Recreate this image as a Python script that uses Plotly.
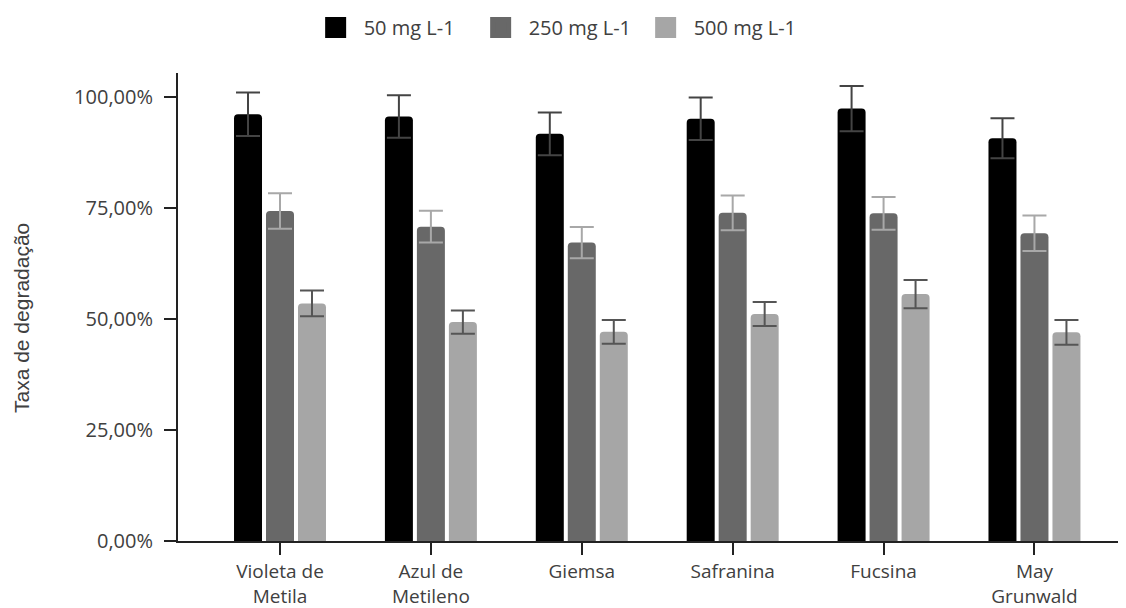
import plotly.graph_objects as go

categories = ["Violeta de<br>Metila", "Azul de<br>Metileno", "Giemsa", "Safranina", "Fucsina", "May<br>Grunwald"]
series_names = ["50 mg L-1", "250 mg L-1", "500 mg L-1"]
v50 = [96.1, 95.6, 91.7, 95.1, 97.4, 90.7]
e50 = [4.9, 4.8, 4.8, 4.8, 5.1, 4.5]
v250 = [74.3, 70.8, 67.2, 73.9, 73.8, 69.3]
e250 = [4.0, 3.6, 3.5, 3.9, 3.7, 4.0]
v500 = [53.5, 49.3, 47.1, 51.1, 55.6, 47.0]
e500 = [2.9, 2.6, 2.7, 2.7, 3.2, 2.8]
y_ticks = [0, 25, 50, 75, 100]
y_ticktext = ["0,00%", "25,00%", "50,00%", "75,00%", "100,00%"]

bar_colors = ["#000000", "#686868", "#a6a6a6"]
err_colors = ["#444444", "#a8a8a8", "#555555"]

fig = go.Figure()
for i, (name, vals, errs, bc, ec) in enumerate(zip(series_names, [v50, v250, v500], [e50, e250, e500], bar_colors, err_colors)):
    fig.add_trace(go.Bar(
        name=name, x=list(range(len(categories))), y=vals, legendgroup=name, showlegend=False,
        marker=dict(color=bc, line=dict(width=0)),
        error_y=dict(type="data", array=errs, visible=True, color=ec, thickness=2, width=12),
    ))
# legend entries (no data drawn)
for name, bc in zip(series_names, bar_colors):
    fig.add_trace(go.Scatter(
        name=name, x=[None], y=[None], mode="markers", legendgroup=name, showlegend=True,
        marker=dict(symbol="square", size=16, color=bc, line=dict(width=5, color=bc)),
    ))

font_ticks = dict(family="Open Sans", size=20, color="#404040")
font_xticks = dict(family="Open Sans", size=19, color="#404040")
fig.update_layout(
    width=1118, height=600,
    margin=dict(l=170, r=1, t=65, b=67, autoexpand=False),
    paper_bgcolor="white", plot_bgcolor="white",
    barmode="group", bargap=0.364, bargroupgap=0.125, barcornerradius=4,
    showlegend=True,
    legend=dict(orientation="h", xref="container", x=0.4894, xanchor="center",
                yref="container", y=1.0, yanchor="top",
                font=dict(family="Open Sans", size=20, color="#404040"),
                itemwidth=46, entrywidth=104, tracegroupgap=0),
    xaxis=dict(range=[-0.676, 5.6], tickmode="array", tickvals=list(range(len(categories))),
               ticktext=categories, ticks="outside", ticklen=12, tickwidth=2, tickcolor="#222222",
               showline=True, linecolor="#222222", linewidth=2, showgrid=False, zeroline=False,
               tickfont=font_xticks, ticklabelstandoff=0, fixedrange=True),
    yaxis=dict(range=[0, 105.4], tickvals=y_ticks, ticktext=y_ticktext,
               ticks="outside", ticklen=12, tickwidth=2, tickcolor="#222222",
               showline=True, linecolor="#222222", linewidth=2, showgrid=False, zeroline=False,
               tickfont=font_ticks, ticklabelstandoff=7),
    xaxis2=dict(overlaying="x", range=[-0.676, 5.6], tickvals=list(range(len(categories))),
                ticks="inside", ticklen=12, tickwidth=2, tickcolor="#222222",
                showticklabels=False, showline=False, showgrid=False, zeroline=False, side="bottom",
                anchor="y"),
    yaxis2=dict(overlaying="y", range=[0, 105.4], tickvals=y_ticks, ticks="inside", ticklen=12,
                tickwidth=2, tickcolor="#222222", showticklabels=False, showline=False,
                showgrid=False, zeroline=False, anchor="x"),
    annotations=[dict(text="Taxa de degradação", xref="paper", yref="paper",
                      x=-0.1647, y=0.4765, xanchor="center", yanchor="middle", textangle=-90,
                      showarrow=False, font=dict(family="Liberation Sans", size=21, color="#404040"))],
)
fig.write_html("out.html")
